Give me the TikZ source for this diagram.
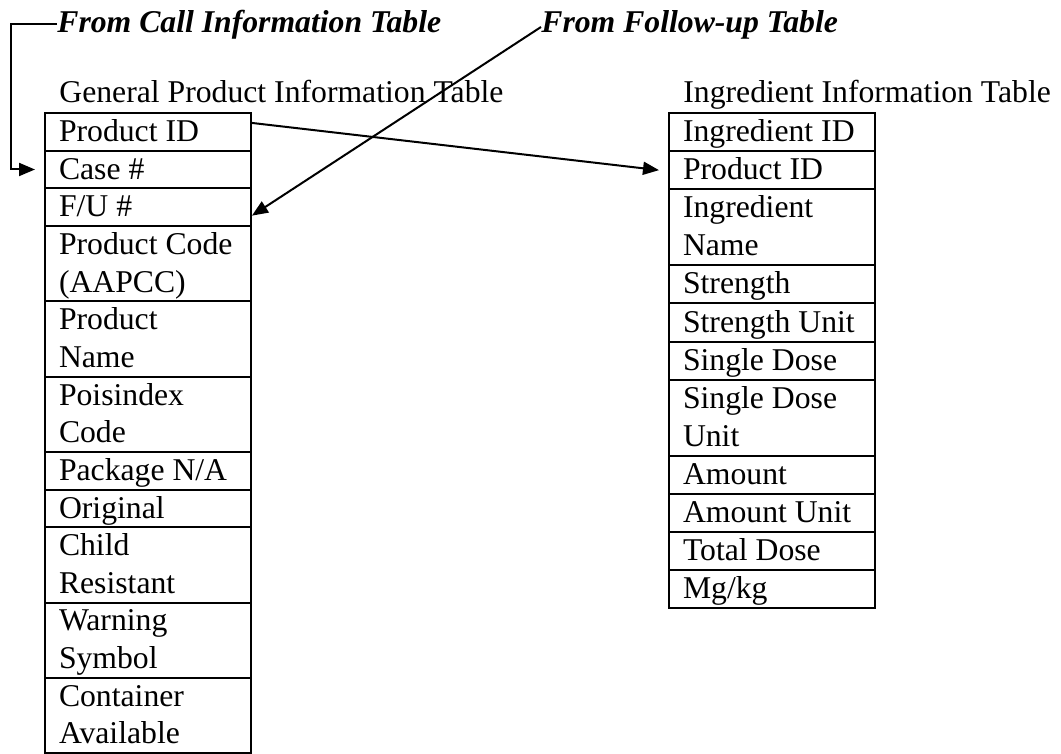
\documentclass[tikz,border=0pt]{standalone}
\usepackage{fontspec}
\setmainfont{Liberation Serif}
\usetikzlibrary{arrows.meta}

\begin{document}
\begin{tikzpicture}[x=0.5pt,y=-0.5pt,
  cell/.style={draw, line width=1pt, outer sep=0pt, inner xsep=7pt, inner ysep=0pt,
    text width=89pt, align=left, anchor=north west,
    execute at begin node={\spaceskip=0pt\xspaceskip=0pt}},
  lcell/.style={cell, font=\fontsize{15.85pt}{18.83pt}\selectfont,
    text height=14.2pt, text depth=4.63pt},
  ltwo/.style={text depth=23.46pt},
  rcell/.style={cell, font=\fontsize{15.85pt}{19.05pt}\selectfont,
    text height=14.3pt, text depth=4.75pt},
  rtwo/.style={text depth=23.8pt},
  tabletitle/.style={inner sep=0pt, anchor=base west, font=\fontsize{15.85pt}{19pt}\selectfont},
  source/.style={inner sep=0pt, anchor=base west, font=\fontsize{15.85pt}{19pt}\selectfont\bfseries\itshape},
  conn/.style={line width=1pt, -{Triangle[length=8pt,width=6.5pt]}}
]
\useasboundingbox (0,0) rectangle (1061,754);

% source tables named above the diagram
\node[source] (fromcall) at (57,33) {From Call Information Table};
\node[source] (fromfu) at (541,33) {From Follow-up Table};

% table titles
\node[tabletitle] (gptitle) at (59,103) {General Product Information Table};
\node[tabletitle] (ittitle) at (683,103) {Ingredient Information Table};

% General Product Information Table
\node[lcell] (gp1) at (45,113) {Product ID};
\node[lcell] (gp2) at (gp1.south west) {Case \#};
\node[lcell] (gp3) at (gp2.south west) {F/U \#};
\node[lcell,ltwo] (gp4) at (gp3.south west) {Product Code\\(AAPCC)};
\node[lcell,ltwo] (gp5) at (gp4.south west) {Product\\Name};
\node[lcell,ltwo] (gp6) at (gp5.south west) {Poisindex\\Code};
\node[lcell] (gp7) at (gp6.south west) {Package N/A};
\node[lcell] (gp8) at (gp7.south west) {Original};
\node[lcell,ltwo] (gp9) at (gp8.south west) {Child\\Resistant};
\node[lcell,ltwo] (gp10) at (gp9.south west) {Warning\\Symbol};
\node[lcell,ltwo] (gp11) at (gp10.south west) {Container\\Available};

% Ingredient Information Table
\node[rcell] (it1) at (669,113) {Ingredient ID};
\node[rcell] (it2) at (it1.south west) {Product ID};
\node[rcell,rtwo] (it3) at (it2.south west) {Ingredient\\Name};
\node[rcell] (it4) at (it3.south west) {Strength};
\node[rcell] (it5) at (it4.south west) {Strength Unit};
\node[rcell] (it6) at (it5.south west) {Single Dose};
\node[rcell,rtwo] (it7) at (it6.south west) {Single Dose\\Unit};
\node[rcell] (it8) at (it7.south west) {Amount};
\node[rcell] (it9) at (it8.south west) {Amount Unit};
\node[rcell] (it10) at (it9.south west) {Total Dose};
\node[rcell] (it11) at (it10.south west) {Mg/kg};

% connectors
\draw[conn] ([yshift=4.5pt]fromcall.base west) -- ++(-46,0) |- ([xshift=-5pt]gp2.west);
\draw[conn] ([yshift=3pt]fromfu.base west) -- ([xshift=0.5pt,yshift=-4.25pt]gp3.east);
\draw[conn] ([yshift=4.5pt]gp1.east) -- ([xshift=-5pt]it2.west);
\end{tikzpicture}
\end{document}
